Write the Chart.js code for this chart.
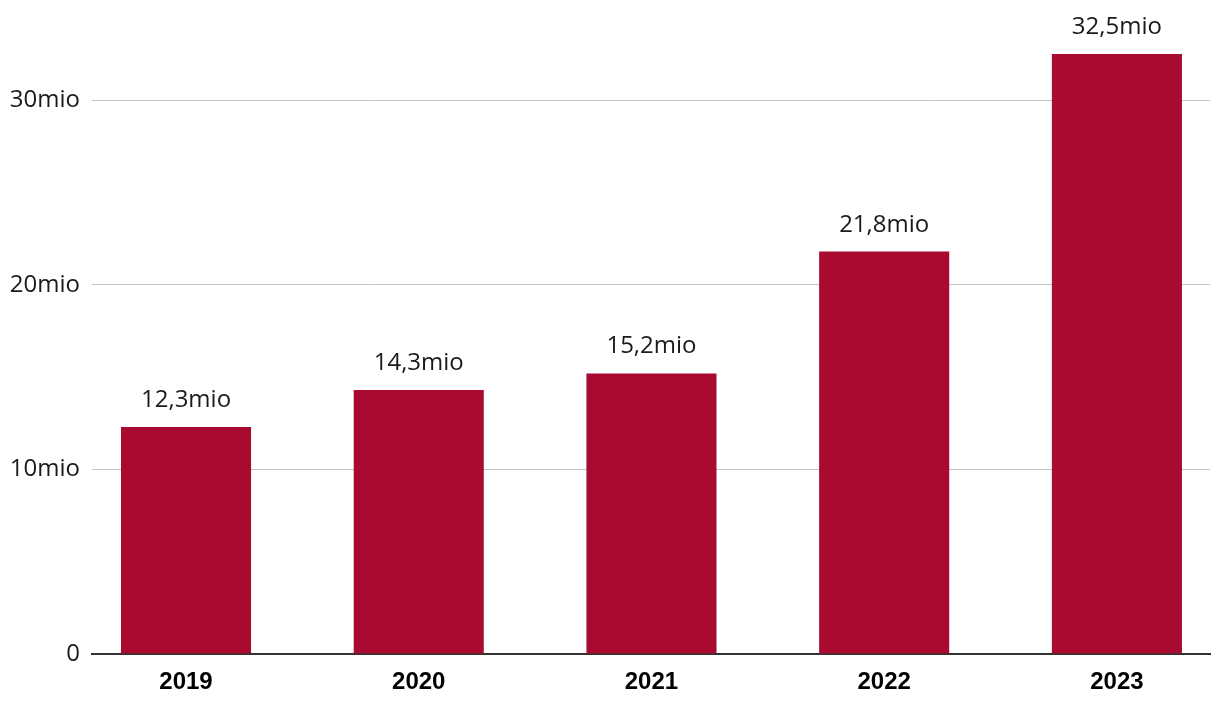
<!DOCTYPE html>
<html>
<head>
<meta charset="utf-8">
<script src="https://cdn.jsdelivr.net/npm/chart.js@4"></script>
<style>
    html, body { margin: 0; padding: 0; background: #fff; }
    #wrap { width: 1220px; height: 708px; }
</style>
</head>
<body>
<div id="wrap"><canvas id="salesChart"></canvas></div>
<script>
// Data (millions)
const years = ["2019", "2020", "2021", "2022", "2023"];
const values = [12.3, 14.3, 15.2, 21.8, 32.5];
const yTicks = [0, 10, 20, 30];

const barColor = "#a80b2f";

// Format a number as "12,3mio"
function fmt(v) {
    return v.toFixed(1).replace(".", ",") + "mio";
}

// Draw value labels above each bar
const valueLabels = {
    id: "valueLabels",
    afterDatasetsDraw(chart) {
        const ctx = chart.ctx;
        const meta = chart.getDatasetMeta(0);
        ctx.save();
        ctx.font = "24px 'Open Sans'";
        ctx.fillStyle = "#1a1a1a";
        ctx.textAlign = "center";
        ctx.textBaseline = "alphabetic";
        meta.data.forEach((bar, i) => {
            ctx.fillText(fmt(values[i]), bar.x, bar.y - 20);
        });
        ctx.restore();
    }
};

document.addEventListener("DOMContentLoaded", function () {
    const ctx = document.getElementById("salesChart").getContext("2d");

    new Chart(ctx, {
        type: "bar",
        data: {
            datasets: [{
                data: values.map((v, i) => ({ x: i, y: v })),
                backgroundColor: barColor,
                borderWidth: 0,
                barPercentage: 0.559,
                categoryPercentage: 1
            }]
        },
        options: {
            responsive: true,
            maintainAspectRatio: false,
            animation: false,
            layout: { padding: { left: 0, right: 10, top: 0, bottom: 0 } },
            plugins: {
                legend: { display: false },
                tooltip: { enabled: false }
            },
            scales: {
                x: {
                    type: "linear",
                    offset: false,
                    min: -0.404,
                    max: 4.4,
                    afterBuildTicks: scale => {
                        scale.ticks = years.map((y, i) => ({ value: i }));
                    },
                    afterFit: scale => { scale.height = 54; },
                    grid: { display: false, drawTicks: false },
                    border: { display: true, color: "#333", width: 2 },
                    ticks: {
                        padding: 14,
                        color: "#000",
                        font: { family: "'Liberation Sans', Arial, sans-serif", size: 24, weight: "bold" },
                        callback: v => years[v]
                    }
                },
                y: {
                    min: 0,
                    max: 34.0,
                    afterBuildTicks: scale => {
                        scale.ticks = yTicks.map(v => ({ value: v }));
                    },
                    afterFit: scale => { scale.width = 92; },
                    grid: { color: "#c4c4c4", lineWidth: 1, drawTicks: false },
                    border: { display: false },
                    ticks: {
                        padding: 12,
                        color: "#1a1a1a",
                        font: { family: "'Open Sans'", size: 24 },
                        callback: v => v === 0 ? "0" : v + "mio"
                    }
                }
            }
        },
        plugins: [valueLabels]
    });
});
</script>
</body>
</html>
